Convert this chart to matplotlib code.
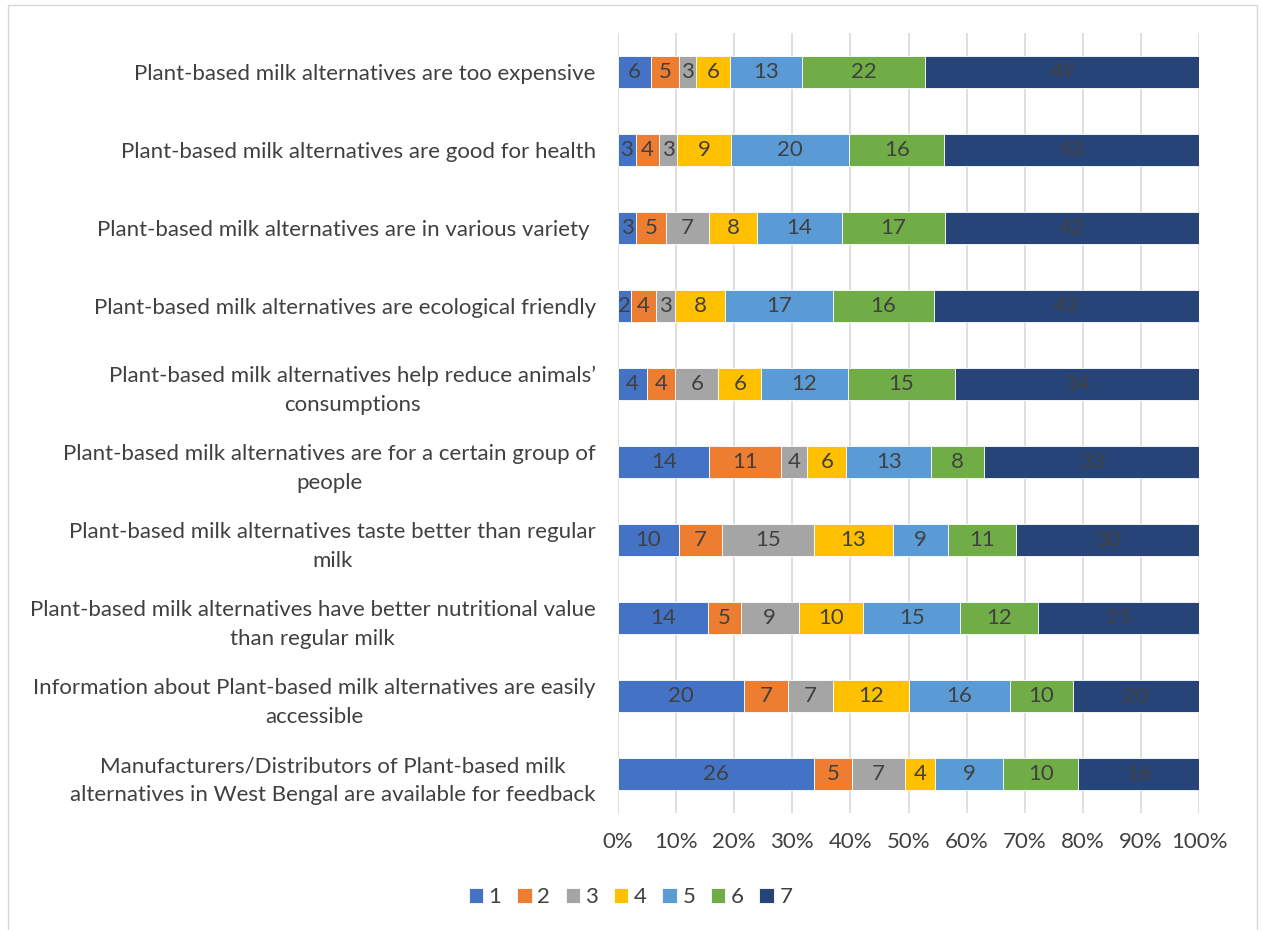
import numpy as np
import matplotlib
matplotlib.use('Agg')
import matplotlib.pyplot as plt
from matplotlib.patches import Rectangle
from matplotlib.ticker import PercentFormatter

plt.rcParams['font.family'] = ['Lato', 'DejaVu Sans']

statements = [
    "Plant-based milk alternatives are too expensive",
    "Plant-based milk alternatives are good for health",
    "Plant-based milk alternatives are in various variety ",
    "Plant-based milk alternatives are ecological friendly",
    "Plant-based milk alternatives help reduce animals’\nconsumptions",
    "Plant-based milk alternatives are for a certain group of\npeople",
    "Plant-based milk alternatives taste better than regular\nmilk",
    "Plant-based milk alternatives have better nutritional value\nthan regular milk",
    "Information about Plant-based milk alternatives are easily\naccessible",
    "Manufacturers/Distributors of Plant-based milk\nalternatives in West Bengal are available for feedback",
]

scale_points = ['1', '2', '3', '4', '5', '6', '7']

# counts per statement for each scale point 1..7
counts_1 = [6, 3, 3, 2, 4, 14, 10, 14, 20, 26]
counts_2 = [5, 4, 5, 4, 4, 11, 7, 5, 7, 5]
counts_3 = [3, 3, 7, 3, 6, 4, 15, 9, 7, 7]
counts_4 = [6, 9, 8, 8, 6, 6, 13, 10, 12, 4]
counts_5 = [13, 20, 14, 17, 12, 13, 9, 15, 16, 9]
counts_6 = [22, 16, 17, 16, 15, 8, 11, 12, 10, 10]
counts_7 = [49, 43, 42, 42, 34, 33, 30, 25, 20, 16]

colors = ['#4472C4', '#ED7D31', '#A5A5A5', '#FFC000', '#5B9BD5', '#70AD47', '#264478']
text_color = '#404040'
fs = 16

counts = np.array([counts_1, counts_2, counts_3, counts_4, counts_5, counts_6, counts_7], dtype=float)
shares = counts / counts.sum(axis=0) * 100

fig = plt.figure(figsize=(12.61, 9.30), dpi=100)
ax = fig.add_axes([0.490, 0.1258, 0.461, 0.8387])

y = np.arange(len(statements))
left = np.zeros(len(statements))
for i, name in enumerate(scale_points):
    bars = ax.barh(y, shares[i], left=left, height=0.40, color=colors[i],
                   edgecolor='white', linewidth=0.6, label=name, zorder=3)
    ax.bar_label(bars, labels=[f"{int(v)}" for v in counts[i]], label_type='center',
                 color=text_color, fontsize=fs)
    left += shares[i]

ax.set_xlim(0, 100)
ax.set_ylim(len(statements) - 0.5, -0.5)
ax.set_yticks(y)
ax.set_yticklabels(statements, fontsize=fs, color=text_color,
                   multialignment='center', linespacing=1.55)
ax.set_xticks(np.arange(0, 101, 10))
ax.xaxis.set_major_formatter(PercentFormatter(decimals=0))
ax.tick_params(axis='x', labelsize=fs, colors=text_color, length=0, pad=14)
ax.tick_params(axis='y', length=0, pad=16)
ax.grid(axis='x', color='#d9d9d9', linewidth=1.2, zorder=0)
for side in ax.spines.values():
    side.set_visible(False)

fig.legend(loc='center', bbox_to_anchor=(0.5, 0.035), ncol=7, frameon=False,
           fontsize=fs, handlelength=0.65, handleheight=0.65, handletextpad=0.25,
           columnspacing=0.7, labelcolor=text_color)

# thin chart frame
fig.patches.append(Rectangle((8 / 1261, -0.01), 1249 / 1261, 1 - 5 / 930 + 0.01,
                             transform=fig.transFigure, fill=False,
                             edgecolor='#d9d9d9', linewidth=1))

fig.savefig('out.png', dpi=100)
